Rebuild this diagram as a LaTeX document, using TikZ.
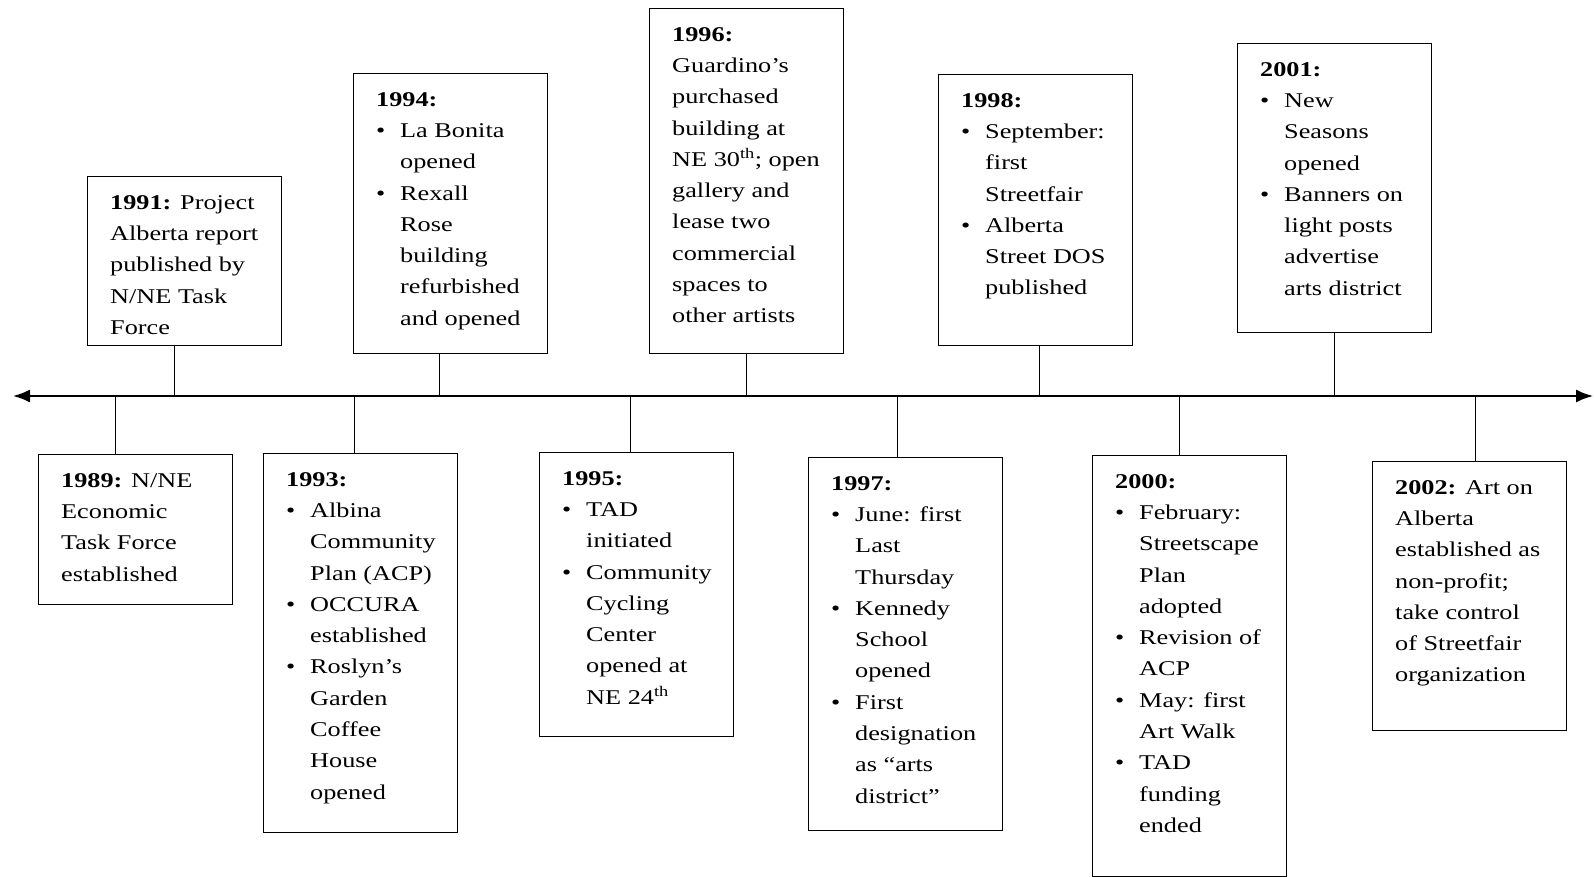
\documentclass[tikz,border=0pt]{standalone}
\usepackage{fontspec}
\setmainfont{Liberation Serif}[FakeStretch=1.25]
\usetikzlibrary{arrows.meta}

\tikzset{
  evbox/.style={draw, line width=1.4pt, anchor=north west, inner sep=0pt, minimum width=194pt},
  evtext/.style={anchor=north west, align=left, inner xsep=23pt, inner ysep=19pt,
    font=\fontsize{21}{31.3}\selectfont},
  conn/.style={line width=1.4pt},
}
\newcommand{\evbul}{\makebox[24pt][l]{\textbullet}}
\newcommand{\evind}{\hspace*{24pt}}

\begin{document}
\begin{tikzpicture}[x=1pt, y=-1pt]
  \useasboundingbox (0,0) rectangle (1594,877);
  \coordinate (tl-left) at (13,396);
  \coordinate (tl-right) at (1593,396);
  \draw[line width=1.8pt, {Latex[length=17pt,width=13pt]}-{Latex[length=17pt,width=13pt]}]
    (tl-left) -- (tl-right);

  % events above the line
  \node[evbox, minimum height=169pt, label={[evtext]north west:{\textbf{1991:} Project\\Alberta report\\published by\\N/NE Task\\Force}}] (n1991) at (87,176) {};
  \node[evbox, minimum height=280pt, label={[evtext]north west:{\textbf{1994:}\\\evbul La Bonita\\\evind opened\\\evbul Rexall\\\evind Rose\\\evind building\\\evind refurbished\\\evind and opened}}] (n1994) at (353,73) {};
  \node[evbox, minimum height=345pt, label={[evtext]north west:{\textbf{1996:}\\Guardino's\\purchased\\building at\\NE 30\textsuperscript{th}; open\\gallery and\\lease two\\commercial\\spaces to\\other artists}}] (n1996) at (649,8) {};
  \node[evbox, minimum height=271pt, label={[evtext]north west:{\textbf{1998:}\\\evbul September:\\\evind first\\\evind Streetfair\\\evbul Alberta\\\evind Street DOS\\\evind published}}] (n1998) at (938,74) {};
  \node[evbox, minimum height=289pt, label={[evtext]north west:{\textbf{2001:}\\\evbul New\\\evind Seasons\\\evind opened\\\evbul Banners on\\\evind light posts\\\evind advertise\\\evind arts district}}] (n2001) at (1237,43) {};

  % events below the line
  \node[evbox, minimum height=150pt, label={[evtext]north west:{\textbf{1989:} N/NE\\Economic\\Task Force\\established}}] (n1989) at (38,454) {};
  \node[evbox, minimum height=379pt, label={[evtext]north west:{\textbf{1993:}\\\evbul Albina\\\evind Community\\\evind Plan (ACP)\\\evbul OCCURA\\\evind established\\\evbul Roslyn's\\\evind Garden\\\evind Coffee\\\evind House\\\evind opened}}] (n1993) at (263,453) {};
  \node[evbox, minimum height=284pt, label={[evtext]north west:{\textbf{1995:}\\\evbul TAD\\\evind initiated\\\evbul Community\\\evind Cycling\\\evind Center\\\evind opened at\\\evind NE 24\textsuperscript{th}}}] (n1995) at (539,452) {};
  \node[evbox, minimum height=373pt, label={[evtext]north west:{\textbf{1997:}\\\evbul June: first\\\evind Last\\\evind Thursday\\\evbul Kennedy\\\evind School\\\evind opened\\\evbul First\\\evind designation\\\evind as ``arts\\\evind district''}}] (n1997) at (808,457) {};
  \node[evbox, minimum height=421pt, label={[evtext]north west:{\textbf{2000:}\\\evbul February:\\\evind Streetscape\\\evind Plan\\\evind adopted\\\evbul Revision of\\\evind ACP\\\evbul May: first\\\evind Art Walk\\\evbul TAD\\\evind funding\\\evind ended}}] (n2000) at (1092,455) {};
  \node[evbox, minimum height=269pt, label={[evtext]north west:{\textbf{2002:} Art on\\Alberta\\established as\\non-profit;\\take control\\of Streetfair\\organization}}] (n2002) at (1372,461) {};

  % ticks to the line
  \foreach \n/\s in {n1991/-10, n1994/-11, n1996/0, n1998/4, n2001/0}
    \draw[conn] ([xshift=\s pt]\n.south) -- ([xshift=\s pt]\n.south |- tl-left);
  \foreach \n/\s in {n1989/-20, n1993/-6, n1995/-6, n1997/-8, n2000/-10, n2002/6}
    \draw[conn] ([xshift=\s pt]\n.north) -- ([xshift=\s pt]\n.north |- tl-left);
\end{tikzpicture}
\end{document}
